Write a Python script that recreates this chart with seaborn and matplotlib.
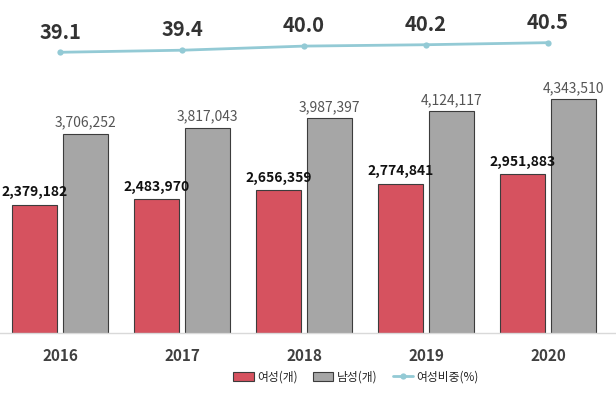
import numpy as np
import pandas as pd
import matplotlib
matplotlib.use("Agg")
import matplotlib.pyplot as plt
from matplotlib.ticker import NullLocator
import seaborn as sns

# DATA
years = ["2016", "2017", "2018", "2019", "2020"]
female = [2379182, 2483970, 2656359, 2774841, 2951883]
male = [3706252, 3817043, 3987397, 4124117, 4343510]
female_share = [39.1, 39.4, 40.0, 40.2, 40.5]

label_female = "여성(개)"
label_male = "남성(개)"
label_share = "여성비중(%)"

# STYLE
sns.set_theme(style="white")
plt.rcParams["font.family"] = ["Noto Sans CJK KR", "DejaVu Sans"]

red = "#d6525f"
gray = "#a6a6a6"
teal = "#93cad5"

df = pd.DataFrame({
    "year": years * 2,
    "group": [label_female] * len(years) + [label_male] * len(years),
    "count": female + male,
})

fig = plt.figure(figsize=(6.16, 3.94), dpi=100)
ax = fig.add_axes([0, 61 / 394, 1, 333 / 394])

sns.barplot(
    data=df, x="year", y="count", hue="group",
    hue_order=[label_female, label_male],
    palette=[red, gray], saturation=1, width=0.836, gap=0.1,
    edgecolor="#3c3c3c", linewidth=0.8, ax=ax,
)

handles, labels = ax.get_legend_handles_labels()
ax.get_legend().remove()

# bar value labels
ax.bar_label(ax.containers[0], labels=[f"{v:,}" for v in female],
             padding=4, fontsize=10, fontweight="bold", color="#111111")
ax.bar_label(ax.containers[1], labels=[f"{v:,}" for v in male],
             padding=3, fontsize=10, color="#555555")

ax.set_ylim(0, 6.19e6)
ax.set_xlim(-0.492, 4.557)
ax.set_xlabel("")
ax.set_ylabel("")
ax.yaxis.set_major_locator(NullLocator())
for side in ["left", "right", "top"]:
    ax.spines[side].set_visible(False)
ax.spines["bottom"].set_color("#d9d9d9")
ax.spines["bottom"].set_linewidth(1.0)
ax.tick_params(axis="x", length=0, pad=11, labelsize=11, labelcolor="#404040")
for t in ax.get_xticklabels():
    t.set_fontweight("bold")

# share line on twin axis
ax2 = ax.twinx()
xpos = np.arange(len(years))
sns.lineplot(x=xpos, y=female_share, color=teal, linewidth=2,
             marker="o", markersize=4.5, markeredgewidth=0,
             label=label_share, ax=ax2)
h2, l2 = ax2.get_legend_handles_labels()
ax2.get_legend().remove()
for x, v in zip(xpos, female_share):
    ax2.annotate(f"{v:.1f}", (x, v), xytext=(0, 7), textcoords="offset points",
                 ha="center", va="bottom", fontsize=14.5, fontweight="bold",
                 color="#333333")
ax2.set_ylim(-1.82, 46.72)
ax2.set_xlim(-0.492, 4.557)
ax2.yaxis.set_major_locator(NullLocator())
ax2.set_ylabel("")
for side in ["left", "right", "top", "bottom"]:
    ax2.spines[side].set_visible(False)

fig.legend(handles + h2, labels + l2, loc="center", bbox_to_anchor=(0.578, 0.043),
           ncol=3, frameon=False, fontsize=8.5, handlelength=1.7,
           handleheight=0.7, handletextpad=0.3, columnspacing=1.3)

fig.savefig("out.png", dpi=100)
